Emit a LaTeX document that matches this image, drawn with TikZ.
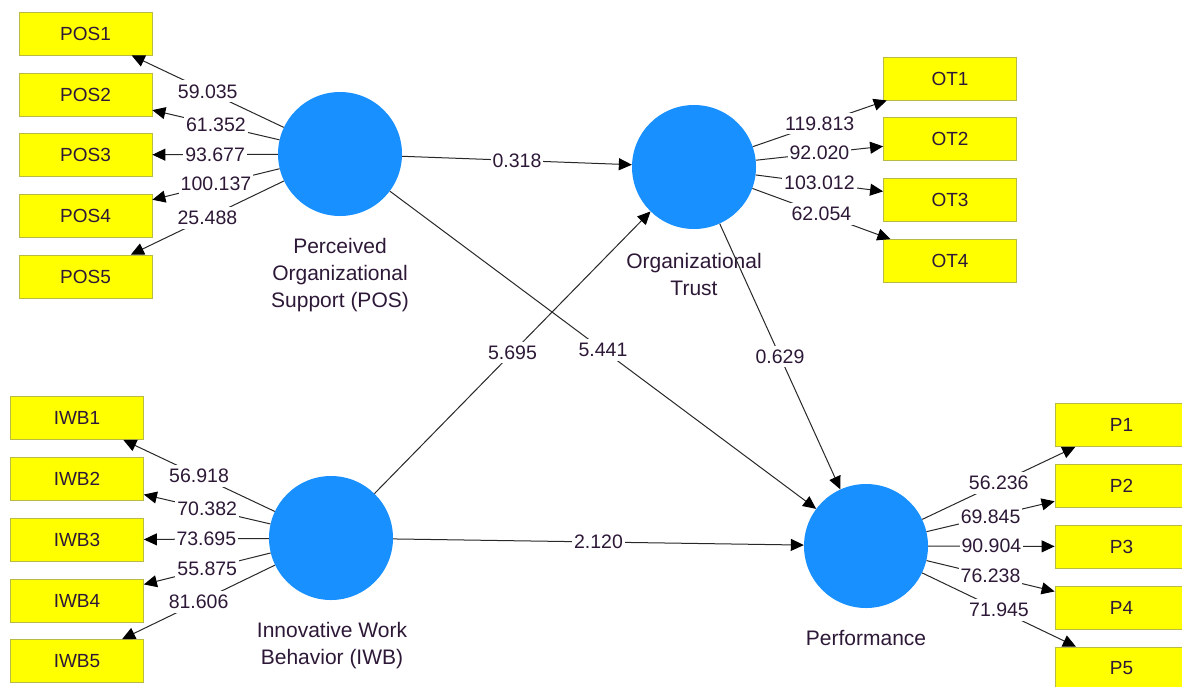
\documentclass[tikz,border=0pt]{standalone}
\usepackage{fontspec}
\setmainfont{Liberation Sans}
\usetikzlibrary{arrows.meta}
\definecolor{lvblue}{RGB}{24,144,255}
\definecolor{mvyellow}{RGB}{255,255,0}
\definecolor{mvborder}{RGB}{185,185,70}
\definecolor{txt}{RGB}{45,25,55}
\definecolor{edge}{RGB}{40,40,40}
\begin{document}
\begin{tikzpicture}[x=1pt,y=-1pt,
 latent/.style={circle, fill=lvblue, minimum size=124pt, inner sep=0pt},
 indicator/.style={rectangle, fill=mvyellow, draw=mvborder, line width=0.8pt, minimum width=133pt, minimum height=43pt, inner sep=0pt, text=txt, font=\fontsize{19}{22}\selectfont},
 latlabel/.style={align=center, text=txt, font=\fontsize{21}{27}\selectfont},
 conn/.style={draw=edge, line width=1pt, -{Triangle[length=13pt,width=12pt,color=black]}},
 coef/.style={fill=white, text=txt, inner xsep=2pt, inner ysep=4pt, font=\fontsize{19.5}{22}\selectfont}
]
\useasboundingbox (0,0) rectangle (1182,686);
\fill[white] (0,0) rectangle (1182,686);
\clip (0,0) rectangle (1182,686);

% latent variables
\node[latent] (POS) at (340,154) {};
\node[latent] (OT) at (694,167) {};
\node[latent] (IWB) at (331,538) {};
\node[latent] (PERF) at (866,546) {};

\node[latlabel] (POSl) at (340,275) {Perceived\\Organizational\\Support (POS)};
\node[latlabel] (OTl) at (694,274.5) {Organizational\\Trust};
\node[latlabel] (IWBl) at (332,646) {Innovative Work\\Behavior (IWB)};
\node[latlabel] (PERFl) at (866,638) {Performance};

% indicators
\node[indicator] (POS1) at (85.5,33.5) {POS1};
\node[indicator] (POS2) at (85.5,94.5) {POS2};
\node[indicator] (POS3) at (85.5,155) {POS3};
\node[indicator] (POS4) at (85.5,216) {POS4};
\node[indicator] (POS5) at (85.5,276.5) {POS5};

\node[indicator] (OT1) at (950,78.5) {OT1};
\node[indicator] (OT2) at (950,139) {OT2};
\node[indicator] (OT3) at (950,200) {OT3};
\node[indicator] (OT4) at (950,261) {OT4};

\node[indicator] (IWB1) at (77,418) {IWB1};
\node[indicator] (IWB2) at (77,479) {IWB2};
\node[indicator] (IWB3) at (77,540) {IWB3};
\node[indicator] (IWB4) at (77,601) {IWB4};
\node[indicator] (IWB5) at (77,661) {IWB5};

\node[indicator] (P1) at (1121.5,425) {P1};
\node[indicator] (P2) at (1121.5,485.5) {P2};
\node[indicator] (P3) at (1121.5,546.5) {P3};
\node[indicator] (P4) at (1121.5,607.5) {P4};
\node[indicator] (P5) at (1121.5,668.5) {P5};

% outer loadings
\draw[conn] (POS) -- node[coef] {59.035} (POS1);
\draw[conn] (POS) -- node[coef] {61.352} (POS2);
\draw[conn] (POS) -- node[coef] {93.677} (POS3);
\draw[conn] (POS) -- node[coef] {100.137} (POS4);
\draw[conn] (POS) -- node[coef] {25.488} (POS5);

\draw[conn] (OT) -- node[coef] {119.813} (OT1);
\draw[conn] (OT) -- node[coef] {92.020} (OT2);
\draw[conn] (OT) -- node[coef] {103.012} (OT3);
\draw[conn] (OT) -- node[coef] {62.054} (OT4);

\draw[conn] (IWB) -- node[coef] {56.918} (IWB1);
\draw[conn] (IWB) -- node[coef] {70.382} (IWB2);
\draw[conn] (IWB) -- node[coef] {73.695} (IWB3);
\draw[conn] (IWB) -- node[coef] {55.875} (IWB4);
\draw[conn] (IWB) -- node[coef] {81.606} (IWB5);

\draw[conn] (PERF) -- node[coef] {56.236} (P1);
\draw[conn] (PERF) -- node[coef] {69.845} (P2);
\draw[conn] (PERF) -- node[coef] {90.904} (P3);
\draw[conn] (PERF) -- node[coef] {76.238} (P4);
\draw[conn] (PERF) -- node[coef] {71.945} (P5);

% inner model
\draw[conn] (POS) -- node[coef] {0.318} (OT);
\draw[conn] (POS) -- node[coef] {5.441} (PERF);
\draw[conn] (IWB) -- node[coef] {5.695} (OT);
\draw[conn] (OT) -- node[coef] {0.629} (PERF);
\draw[conn] (IWB) -- node[coef] {2.120} (PERF);
\end{tikzpicture}
\end{document}
